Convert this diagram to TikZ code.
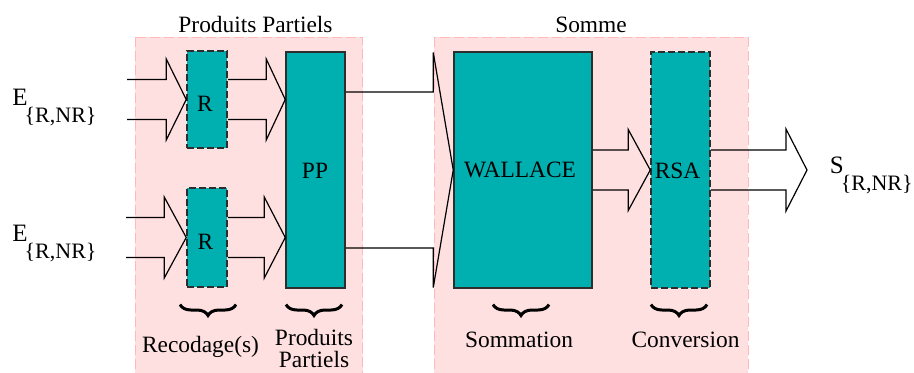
\documentclass[tikz,border=0pt]{standalone}
\usepackage{fontspec}
\setmainfont{Liberation Serif}
\newfontfamily\diagfont{Liberation Serif}
\usetikzlibrary{calc,decorations.pathreplacing}

\definecolor{stagefill}{RGB}{255,224,224}
\definecolor{stageedge}{RGB}{255,185,185}
\definecolor{blockfill}{RGB}{0,176,176}
\definecolor{blockedge}{RGB}{45,45,45}

\tikzset{
  stage/.style={fill=stagefill, draw=stageedge, dash pattern=on 5pt off 2pt, line width=0.5pt},
  block/.style={rectangle, draw=blockedge, fill=blockfill, line width=0.75pt, inner sep=0pt},
  dashedblock/.style={block, dash pattern=on 3.5pt off 1.5pt},
  lbl/.style={inner sep=0pt, font=\diagfont\fontsize{11.7}{13}\selectfont},
  fatarrow/.style={draw=black, line width=0.6pt, line join=miter},
  grouping/.style={decorate, decoration={brace, amplitude=5.5pt}, line width=1.5pt},
}

% open block arrow: #1 start point (x only), #2 tip, #3 half shaft width,
% #4 head length, #5 half head width
\newcommand\blockarrow[5]{%
  \draw[fatarrow] let \p1=(#1), \p2=(#2) in
    (\x1,\y2+#3) -- (\x2-#4,\y2+#3) -- (\x2-#4,\y2+#5) -- (\x2,\y2)
    -- (\x2-#4,\y2-#5) -- (\x2-#4,\y2-#3) -- (\x1,\y2-#3);}

\newcommand\sublabel[1]{\diagfont\fontsize{12.5}{14}\selectfont #1\kern-1.5pt\raisebox{-8.5pt}{\fontsize{11}{13}\selectfont\{R,NR\}}}

\begin{document}
\begin{tikzpicture}[x=0.5pt, y=-0.5pt]
  \useasboundingbox (0,0) rectangle (914,372);

  % the two stages
  \path[stage] (135,37) rectangle (362.5,375);
  \path[stage] (434,37) rectangle (748,375);
  \node[lbl, anchor=base] (t1) at (255.5,32) {Produits Partiels};
  \node[lbl, anchor=base] (t2) at (591,32) {Somme};

  % blocks
  \node[dashedblock, minimum width=20pt, minimum height=48.5pt] (R1) at (207,99.5) {};
  \node[dashedblock, minimum width=20pt, minimum height=49.5pt] (R2) at (207,237.5) {};
  \node[block, minimum width=29.5pt, minimum height=118pt] (PP) at (315.5,170) {};
  \node[block, minimum width=69pt, minimum height=118pt] (WALLACE) at (523,170) {};
  \node[dashedblock, minimum width=29.5pt, minimum height=118pt] (RSA) at (680.5,170) {};

  \node[lbl] (R1t) at (205,104) {R};
  \node[lbl] (R2t) at (205.5,242) {R};
  \node[lbl] (PPt) at (315,170.5) {PP};
  \node[lbl] (Wt) at (520,170) {WALLACE};
  \node[lbl] (RSAt) at (677.5,170.5) {RSA};

  % inputs and output
  \coordinate (in1) at (127,99.5);
  \coordinate (in2) at (126,237.5);
  \coordinate (out) at (807,170);
  \node[inner sep=0pt, anchor=base west] (E1) at (12,105) {\sublabel{E}};
  \node[inner sep=0pt, anchor=base west] (E2) at (12,241) {\sublabel{E}};
  \node[inner sep=0pt, anchor=base west] (S) at (829.5,173) {\sublabel{S}};

  % data paths
  \blockarrow{in1}{R1.west}{10pt}{10pt}{20.25pt}
  \blockarrow{R1.east}{PP.west |- R1.west}{10pt}{9.5pt}{20.25pt}
  \blockarrow{in2}{R2.west}{10pt}{11pt}{20.25pt}
  \blockarrow{R2.east}{PP.west |- R2.west}{10pt}{10.5pt}{20.25pt}
  \blockarrow{PP.east}{WALLACE.west}{39pt}{10pt}{58.75pt}
  \blockarrow{WALLACE.east}{RSA.west}{10pt}{11pt}{20.25pt}
  \blockarrow{RSA.east}{out}{10pt}{10.5pt}{20.5pt}

  % groupings
  \coordinate (bl) at (0,304.5);
  \draw[grouping] ($(R2.center |- bl)+(14.5pt,0)$) -- ($(R2.center |- bl)-(13.5pt,0)$);
  \draw[grouping] ($(PP.center |- bl)+(13.25pt,0)$) -- ($(PP.center |- bl)-(14.75pt,0)$);
  \draw[grouping] ($(WALLACE.center |- bl)+(13pt,0)$) -- ($(WALLACE.center |- bl)-(15pt,0)$);
  \draw[grouping] ($(RSA.center |- bl)+(13.25pt,0)$) -- ($(RSA.center |- bl)-(14.75pt,0)$);

  \node[lbl, anchor=base] (recod) at (200.5,352) {Recodage(s)};
  \node[lbl, anchor=base, align=center, font=\diagfont\fontsize{11.7}{11}\selectfont] (pplbl) at (314,367) {Produits\\Partiels};
  \node[lbl, anchor=base] (somm) at (519,347) {Sommation};
  \node[lbl, anchor=base] (conv) at (685.5,347) {Conversion};
\end{tikzpicture}
\end{document}
